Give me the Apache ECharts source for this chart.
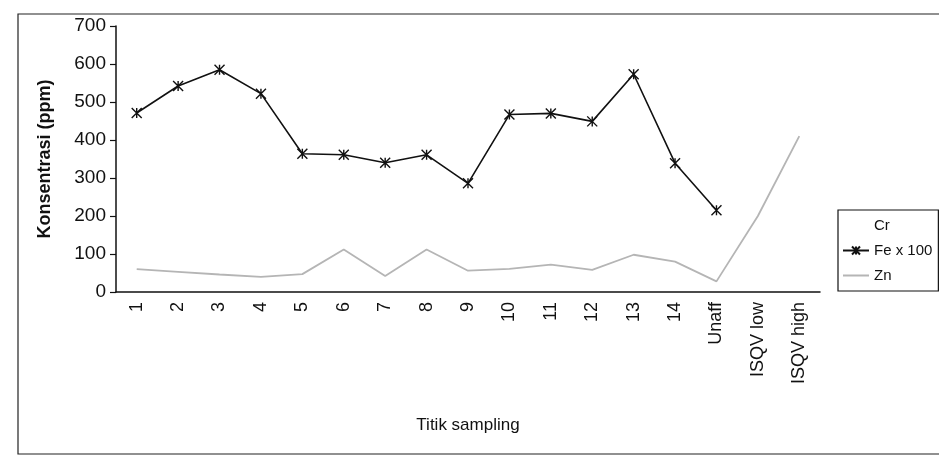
<!DOCTYPE html>
<html>
<head>
<meta charset="utf-8">
<script src="https://cdn.jsdelivr.net/npm/echarts@6/dist/echarts.min.js"></script>
<style>
  html, body { margin: 0; padding: 0; background: #fff; }
  #chart { width: 939px; height: 463px; }
</style>
</head>
<body>
<div id="chart"></div>
<script>
// sampling points
const categories = ['1', '2', '3', '4', '5', '6', '7', '8', '9', '10', '11', '12', '13', '14',
  'Unaff', 'ISQV low', 'ISQV high'];

// Cr line did not come out in the scan, so it only shows in the legend
const crValues = [];
// Fe x 100, no values for the ISQV points
const feValues = [471, 542, 585, 522, 364, 361, 340, 361, 286, 467, 470, 449, 573, 339, 215, null, null];
const znValues = [60, 53, 46, 40, 47, 112, 42, 112, 56, 61, 72, 58, 98, 80, 28, 200, 410];

const yTicks = { min: 0, max: 700, interval: 100 };

const font = 'Liberation Sans, Arial, sans-serif';
const chart = echarts.init(document.getElementById('chart'));

chart.setOption({
  animation: false,
  backgroundColor: '#fff',
  graphic: [{
    type: 'rect',
    shape: { x: 18, y: 14, width: 940, height: 440 },
    style: { fill: 'none', stroke: '#222', lineWidth: 1.2 },
    silent: true
  }],
  grid: { left: 116, right: 119, top: 26, bottom: 171 },
  legend: {
    orient: 'vertical',
    left: 838,
    top: 210,
    padding: [8, 6, 8, 4],
    borderColor: '#111',
    borderWidth: 1.2,
    backgroundColor: '#fff',
    itemWidth: 26,
    itemHeight: 10,
    itemGap: 10,
    textStyle: { fontFamily: font, fontSize: 15, color: '#111' },
    data: [
      { name: 'Cr', itemStyle: { opacity: 0 } },
      'Fe x 100',
      { name: 'Zn', itemStyle: { opacity: 0 } }
    ]
  },
  xAxis: {
    type: 'category',
    data: categories,
    name: 'Titik sampling',
    nameLocation: 'middle',
    nameGap: 125,
    nameTextStyle: { fontFamily: font, fontSize: 17, color: '#111' },
    axisLine: { lineStyle: { color: '#111', width: 1.5 } },
    axisTick: { show: false },
    axisLabel: {
      rotate: 90,
      margin: 10,
      interval: 0,
      fontFamily: font,
      fontSize: 18,
      color: '#111'
    }
  },
  yAxis: {
    type: 'value',
    min: yTicks.min,
    max: yTicks.max,
    interval: yTicks.interval,
    name: 'Konsentrasi (ppm)',
    nameLocation: 'middle',
    nameGap: 62,
    nameTextStyle: { fontFamily: font, fontSize: 18, fontWeight: 'bold', color: '#111' },
    axisLine: { show: true, lineStyle: { color: '#111', width: 1.5 } },
    axisTick: { show: true, length: 6, lineStyle: { color: '#111', width: 1.2 } },
    splitLine: { show: false },
    axisLabel: { fontFamily: font, fontSize: 19, color: '#111', margin: 10 }
  },
  series: [
    {
      name: 'Cr',
      type: 'line',
      data: crValues,
      symbol: 'none',
      itemStyle: { color: 'rgba(255,255,255,0)' },
      lineStyle: { color: 'rgba(255,255,255,0)' }
    },
    {
      name: 'Fe x 100',
      type: 'line',
      data: feValues,
      symbol: 'path://M0,0L10,10M10,0L0,10M5,0L5,10',
      symbolSize: 10,
      itemStyle: { color: '#111', borderColor: '#111', borderWidth: 1.4 },
      lineStyle: { color: '#111', width: 1.6 }
    },
    {
      name: 'Zn',
      type: 'line',
      data: znValues,
      symbol: 'none',
      itemStyle: { color: '#b5b5b5' },
      lineStyle: { color: '#b5b5b5', width: 1.8 }
    }
  ]
});
</script>
</body>
</html>
